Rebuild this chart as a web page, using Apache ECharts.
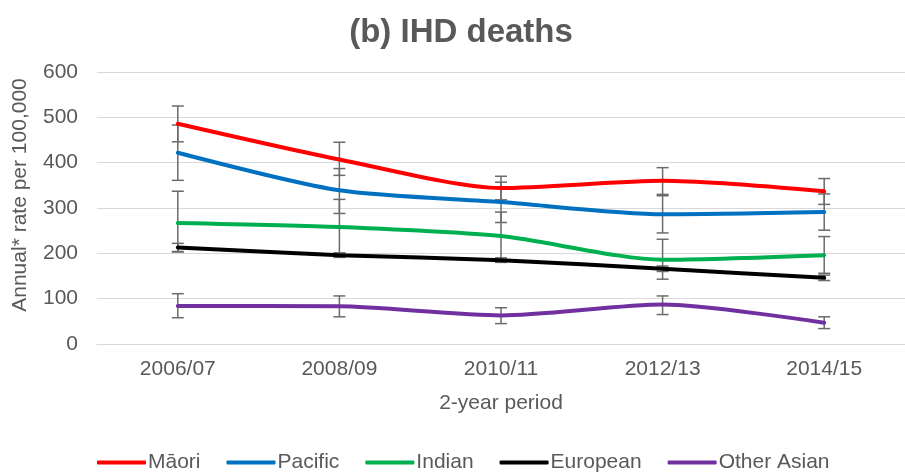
<!DOCTYPE html>
<html>
<head>
<meta charset="utf-8">
<script src="https://cdn.jsdelivr.net/npm/echarts@6/dist/echarts.min.js"></script>
<style>
  html, body { margin: 0; padding: 0; background: #fff; }
  #chart { width: 905px; height: 475px; }
</style>
</head>
<body>
<div id="chart"></div>
<script>
// 2-year periods
const periods = ['2006/07', '2008/09', '2010/11', '2012/13', '2014/15'];
const yTicks = [0, 100, 200, 300, 400, 500, 600];

// Annual IHD death rate per 100,000
const maori      = [486, 407, 344, 360, 337];
const pacific    = [422, 339, 313, 286, 291];
const indian     = [267, 258, 238, 186, 196];
const european   = [213, 196, 185, 166, 146];
const otherAsian = [84, 83, 63, 87, 47];

// 95% confidence limits (lower, upper)
const maoriLow      = [446, 372, 318, 330, 308];
const maoriHigh     = [525, 445, 370, 389, 365];
const pacificLow    = [361, 288, 268, 245, 251];
const pacificHigh   = [483, 387, 357, 327, 331];
const indianLow     = [203, 200, 186, 143, 156];
const indianHigh    = [337, 319, 291, 231, 237];
const europeanLow   = [204, 191, 180, 160, 140];
const europeanHigh  = [222, 201, 190, 172, 152];
const otherAsianLow = [58, 60, 45, 65, 34];
const otherAsianHigh= [111, 106, 80, 106, 60];

const groups = [
  { name: 'Māori',       color: '#FF0000', values: maori,      low: maoriLow,      high: maoriHigh },
  { name: 'Pacific',     color: '#0070C0', values: pacific,    low: pacificLow,    high: pacificHigh },
  { name: 'Indian',      color: '#00B050', values: indian,     low: indianLow,     high: indianHigh },
  { name: 'European',    color: '#000000', values: european,   low: europeanLow,   high: europeanHigh },
  { name: 'Other Asian', color: '#7030A0', values: otherAsian, low: otherAsianLow, high: otherAsianHigh }
];

const textColor = '#595959';
const font = 'Liberation Sans, Arial, sans-serif';

function errorBarItem(params, api) {
  const x = api.value(0);
  const lo = api.coord([x, api.value(1)]);
  const hi = api.coord([x, api.value(2)]);
  const cap = 6;
  const style = { stroke: '#6b6b6b', lineWidth: 1.5, fill: null };
  return {
    type: 'group',
    children: [
      { type: 'line', shape: { x1: lo[0], y1: lo[1], x2: hi[0], y2: hi[1] }, style: style },
      { type: 'line', shape: { x1: lo[0] - cap, y1: lo[1], x2: lo[0] + cap, y2: lo[1] }, style: style },
      { type: 'line', shape: { x1: hi[0] - cap, y1: hi[1], x2: hi[0] + cap, y2: hi[1] }, style: style }
    ]
  };
}

const series = [];
groups.forEach(function (g) {
  series.push({
    name: g.name + ' CI',
    type: 'custom',
    renderItem: errorBarItem,
    data: periods.map(function (p, i) { return [i, g.low[i], g.high[i]]; }),
    encode: { x: 0, y: [1, 2] },
    z: 1,
    silent: true
  });
});
groups.forEach(function (g) {
  series.push({
    name: g.name,
    type: 'line',
    data: g.values,
    smooth: 0.25,
    symbol: 'none',
    legendIcon: 'roundRect',
    lineStyle: { color: g.color, width: 4, cap: 'round' },
    itemStyle: { color: g.color },
    z: 3
  });
});

const chart = echarts.init(document.getElementById('chart'));
chart.setOption({
  animation: false,
  backgroundColor: '#ffffff',
  title: {
    text: '(b) IHD deaths',
    left: 456,
    textAlign: 'center',
    top: 11,
    textStyle: { fontFamily: font, fontSize: 33, fontWeight: 'bold', color: textColor }
  },
  legend: {
    data: groups.map(function (g) { return g.name; }),
    left: 92,
    top: 447,
    icon: 'roundRect',
    itemWidth: 49,
    itemHeight: 4,
    itemGap: 26,
    textStyle: { fontFamily: font, fontSize: 21, color: textColor, padding: [0, 0, 0, -3] }
  },
  grid: { left: 97, right: -9, top: 72, bottom: 131 },
  xAxis: {
    type: 'category',
    data: periods,
    boundaryGap: true,
    name: '2-year period',
    nameLocation: 'middle',
    nameGap: 49,
    nameTextStyle: { fontFamily: font, fontSize: 21, color: textColor },
    axisLine: { show: true, lineStyle: { color: '#d9d9d9', width: 1 } },
    axisTick: { show: false },
    axisLabel: { fontFamily: font, fontSize: 21, color: textColor, margin: 15 }
  },
  yAxis: {
    type: 'value',
    min: yTicks[0],
    max: yTicks[yTicks.length - 1],
    interval: 100,
    axisLine: { show: false },
    axisTick: { show: false },
    splitLine: { lineStyle: { color: '#d9d9d9', width: 1 } },
    axisLabel: { fontFamily: font, fontSize: 21, color: textColor, margin: 19 }
  },
  graphic: [{
    type: 'text',
    x: 20,
    y: 195,
    rotation: Math.PI / 2,
    style: {
      text: 'Annual* rate per 100,000',
      fontFamily: font,
      fontSize: 21,
      fill: textColor,
      textAlign: 'center',
      textVerticalAlign: 'middle'
    }
  }],
  series: series
});
</script>
</body>
</html>
